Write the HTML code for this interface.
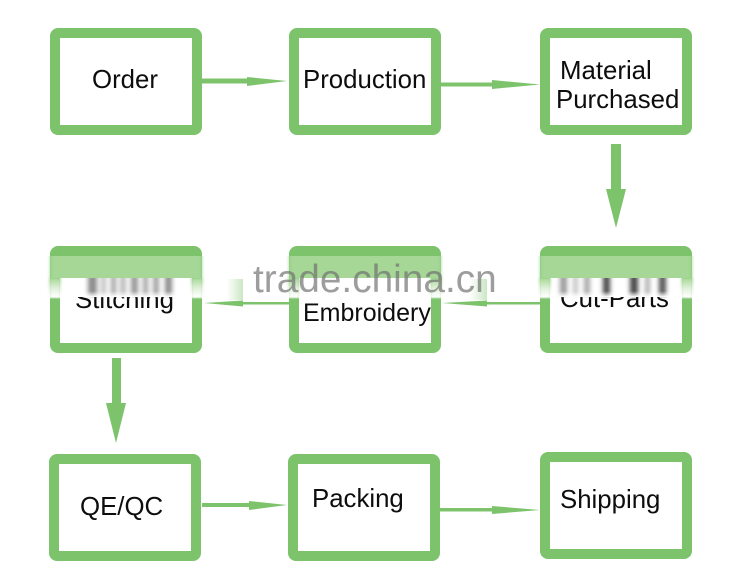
<!DOCTYPE html>
<html>
<head>
<meta charset="utf-8">
<style>
html,body{margin:0;padding:0;background:#fff;width:750px;height:584px;overflow:hidden}
svg{display:block}
text{font-family:"Liberation Sans",sans-serif;font-size:25.800px;fill:#0d0d0d}
</style>
</head>
<body>
<svg width="750" height="584" viewBox="0 0 750 584" xmlns="http://www.w3.org/2000/svg">
<defs>
<filter id="bx" x="-100%" y="-10%" width="300%" height="120%"><feGaussianBlur stdDeviation="2.400 0.600"/></filter>
<filter id="bh" x="-10%" y="0%" width="120%" height="100%"><feGaussianBlur stdDeviation="1.600 0"/></filter>
<filter id="bs" x="-40%" y="-10%" width="180%" height="120%"><feGaussianBlur stdDeviation="1.200 0.800"/></filter>
<linearGradient id="side" x1="0" y1="0" x2="0" y2="1">
<stop offset="0" stop-color="#a6d797"/>
<stop offset=".5" stop-color="#dff0d9"/>
<stop offset=".95" stop-color="#fff"/>
<stop offset="1" stop-color="#fff"/>
</linearGradient>
<linearGradient id="smearfade" x1="0" y1="0" x2="0" y2="1">
<stop offset="0" stop-color="#fff" stop-opacity="0"/>
<stop offset="1" stop-color="#fff" stop-opacity="1"/>
</linearGradient>
<linearGradient id="patchL" x1="0" y1="0" x2="1" y2="0">
<stop offset="0" stop-color="#7cc36c" stop-opacity="0"/>
<stop offset="1" stop-color="#7cc36c" stop-opacity=".4"/>
</linearGradient>
<clipPath id="c1"><rect x="60" y="297" width="132" height="46"/></clipPath>
<clipPath id="c3"><rect x="550" y="297" width="132" height="46"/></clipPath>
</defs>

<!-- boxes -->
<g fill="#7cc36c">
<rect x="50" y="28" width="152" height="107" rx="8"/>
<rect x="289" y="28" width="152" height="107" rx="8"/>
<rect x="540" y="28" width="152" height="107" rx="8"/>
<rect x="50" y="246" width="152" height="107" rx="8"/>
<rect x="289" y="246" width="152" height="107" rx="8"/>
<rect x="540" y="246" width="152" height="107" rx="8"/>
<rect x="49" y="454" width="152" height="107" rx="8"/>
<rect x="288" y="454" width="152" height="107" rx="8"/>
<rect x="540" y="452" width="152" height="107" rx="8"/>
</g>
<g fill="#fff">
<rect x="60" y="38" width="132" height="87"/>
<rect x="299" y="38" width="132" height="87"/>
<rect x="550" y="38" width="132" height="87"/>
<rect x="60" y="256" width="132" height="87"/>
<rect x="299" y="256" width="132" height="87"/>
<rect x="550" y="256" width="132" height="87"/>
<rect x="59" y="464" width="132" height="87"/>
<rect x="298" y="464" width="132" height="87"/>
<rect x="550" y="462" width="132" height="87"/>
</g>

<!-- arrows -->
<g fill="#7cc36c">
<path d="M202 78.500H247V77L287 81 247 86V83.500H202Z"/>
<path d="M441 82.500H492V80L540 84.500 492 89V86.500H441Z"/>
<path d="M611 144H621V189H626L616 228 606 189H611Z"/>
<path d="M540 302H487V300.500L442 303 487 306.500V304.500H540Z"/>
<path d="M289 302H243V300.500L204 303 243 306.500V304.500H289Z"/>
<path d="M112 358H121V403H126L116 443 106 403H112Z"/>
<path d="M202 503H249V501L287 505 249 510V507H202Z"/>
<path d="M440 508H492V506L540 510 492 514V511.500H440Z"/>
</g>

<!-- labels -->
<text x="92" y="88">Order</text>
<text x="303" y="88">Production</text>
<text x="560" y="79">Material</text>
<text x="556" y="108">Purchased</text>
<g clip-path="url(#c1)"><text x="75" y="308">Stitching</text></g>
<text x="303" y="321" style="font-size:25px">Embroidery</text>
<g clip-path="url(#c3)"><text x="560" y="307">Cut-Parts</text></g>
<text x="80" y="515">QE/QC</text>
<text x="312" y="507">Packing</text>
<text x="560" y="508">Shipping</text>

<!-- washed side borders -->
<g fill="url(#side)" filter="url(#bs)">
<rect x="49" y="278" width="12" height="20"/>
<rect x="191" y="278" width="12" height="20"/>
<rect x="288" y="278" width="12" height="20"/>
<rect x="430" y="278" width="12" height="20"/>
<rect x="539" y="278" width="12" height="20"/>
<rect x="681" y="278" width="12" height="20"/>
</g>
<rect x="227" y="279" width="16" height="21" fill="url(#patchL)"/>
<rect x="470" y="279" width="17" height="21" fill="url(#patchL)"/>

<!-- smeared text: Stitching -->
<g filter="url(#bx)">
<rect x="88" y="276" width="9" height="21" fill="#8c8c8c"/>
<rect x="101" y="276" width="5" height="21" fill="#c0c0c0"/>
<rect x="111" y="276" width="5" height="21" fill="#a4a4a4"/>
<rect x="120" y="276" width="6" height="21" fill="#bcbcbc"/>
<rect x="131" y="276" width="7" height="21" fill="#989898"/>
<rect x="143" y="276" width="5" height="21" fill="#a3a3a3"/>
<rect x="153" y="276" width="6" height="21" fill="#a3a3a3"/>
<rect x="165" y="276" width="7" height="21" fill="#8c8c8c"/>
</g>
<!-- smeared text: Cut-Parts -->
<g filter="url(#bx)">
<rect x="560" y="276" width="7" height="21" fill="#9a9a9a"/>
<rect x="573" y="276" width="5" height="21" fill="#c4c4c4"/>
<rect x="584" y="276" width="6" height="21" fill="#a8a8a8"/>
<rect x="603" y="276" width="7" height="21" fill="#4a4a4a"/>
<rect x="630" y="276" width="8" height="21" fill="#4a4a4a"/>
<rect x="645" y="276" width="5" height="21" fill="#b0b0b0"/>
<rect x="659" y="276" width="7" height="21" fill="#555"/>
</g>
<rect x="60" y="291" width="132" height="6" fill="url(#smearfade)"/>
<rect x="550" y="291" width="132" height="6" fill="url(#smearfade)"/>

<!-- light band across the top of each middle-row box -->
<g fill="#a6d797" filter="url(#bh)">
<rect x="50" y="256" width="152" height="22"/>
<rect x="289" y="256" width="152" height="22"/>
<rect x="540" y="256" width="152" height="22"/>
</g>

<!-- watermark -->
<text x="253" y="292" style="font-size:38.800px;fill:#6e6e6e;fill-opacity:.68">trade.china.cn</text>
</svg>
</body>
</html>
